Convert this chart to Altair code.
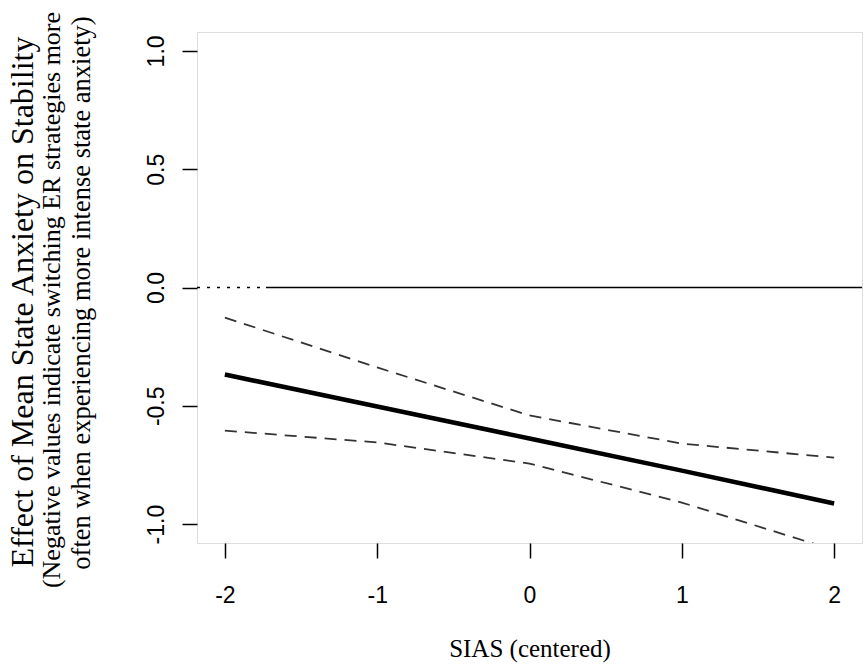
import altair as alt
import pandas as pd

# Data
sias = [-2, -1, 0, 1, 2]
estimate = [-0.368, -0.503, -0.638, -0.774, -0.913]
upper_ci = [-0.127, -0.338, -0.541, -0.660, -0.719]
lower_ci = [-0.605, -0.655, -0.744, -0.909, -1.110]

x_ticks = [-2, -1, 0, 1, 2]
y_ticks = [-1.0, -0.5, 0.0, 0.5, 1.0]
x_domain = [-2.183, 2.183]
y_domain = [-1.08, 1.08]

zero_dot_x = [-2.183, -1.73]
zero_solid_x = [-1.73, 2.183]

title_main = "Effect of Mean State Anxiety on Stability"
title_sub1 = "(Negative values indicate switching ER strategies more"
title_sub2 = "often when experiencing more intense state anxiety)"
x_title = "SIAS (centered)"

W, H = 665, 511
PL, PT = 197, 32

df = pd.DataFrame({"x": sias, "est": estimate, "up": upper_ci, "lo": lower_ci})

xs = alt.Scale(domain=x_domain, nice=False, zero=False)
ys = alt.Scale(domain=y_domain, nice=False, zero=False)

neg_fmt = lambda f: f"datum.value < 0 ? '-' + format(abs(datum.value), '{f}') : format(datum.value, '{f}')"

x_axis = alt.Axis(values=x_ticks, labelExpr=neg_fmt("d"), title=None, grid=False, domain=False,
                  tickSize=15, tickWidth=1.5, tickColor="black", labelFont="Liberation Sans",
                  labelFontSize=23, labelColor="black", labelPadding=26)
y_axis = alt.Axis(values=y_ticks, labelExpr=neg_fmt(".1f"), title=None, grid=False, domain=False,
                  tickSize=15, tickWidth=1.5, tickColor="black", labelFont="Liberation Sans",
                  labelFontSize=23, labelColor="black", labelAngle=270, labelAlign="center",
                  labelBaseline="alphabetic", labelPadding=19)

base = alt.Chart(df)

est_line = base.mark_line(color="black", strokeWidth=4.5, clip=True).encode(
    x=alt.X("x:Q", scale=xs, axis=x_axis), y=alt.Y("est:Q", scale=ys, axis=y_axis))
up_line = base.mark_line(color="#333333", strokeWidth=1.8, strokeDash=[12, 8], clip=True).encode(
    x=alt.X("x:Q", scale=xs), y=alt.Y("up:Q", scale=ys))
lo_line = base.mark_line(color="#333333", strokeWidth=1.8, strokeDash=[12, 8], clip=True).encode(
    x=alt.X("x:Q", scale=xs), y=alt.Y("lo:Q", scale=ys))

zd = pd.DataFrame({"x": [zero_dot_x[0]], "x2": [zero_dot_x[1]], "y": [0.0]})
zs = pd.DataFrame({"x": [zero_solid_x[0]], "x2": [zero_solid_x[1]], "y": [0.0]})
zero_dot = alt.Chart(zd).mark_rule(color="black", strokeWidth=1.5, strokeDash=[3, 7], clip=True).encode(
    x=alt.X("x:Q", scale=xs), x2="x2:Q", y=alt.Y("y:Q", scale=ys))
zero_solid = alt.Chart(zs).mark_rule(color="black", strokeWidth=1.5, clip=True).encode(
    x=alt.X("x:Q", scale=xs), x2="x2:Q", y=alt.Y("y:Q", scale=ys))

def label(txt, px, py, size, angle=0):
    return alt.Chart(pd.DataFrame({"t": [txt]})).mark_text(
        font="Liberation Serif", fontSize=size, color="black", align="center",
        baseline="alphabetic", angle=angle).encode(
        text="t:N", x=alt.value(px), y=alt.value(py))

t1 = label(title_main, 33 - PL, 302 - PT, 32, 270)
t2 = label(title_sub1, 60 - PL, 300 - PT, 26, 270)
t3 = label(title_sub2, 90 - PL, 293 - PT, 26.5, 270)
tx = label(x_title, 530 - PL, 657 - PT, 25)

chart = alt.layer(zero_dot, zero_solid, up_line, lo_line, est_line, t1, t2, t3, tx).properties(
    width=W, height=H,
    autosize=alt.AutoSizeParams(type="none"),
    padding={"left": PL, "top": PT, "right": 866 - PL - W, "bottom": 665 - PT - H},
).configure_view(stroke="black", strokeWidth=1.5).configure(background="white")

chart.save("out.html", embed_options={"renderer": "svg", "actions": False})
